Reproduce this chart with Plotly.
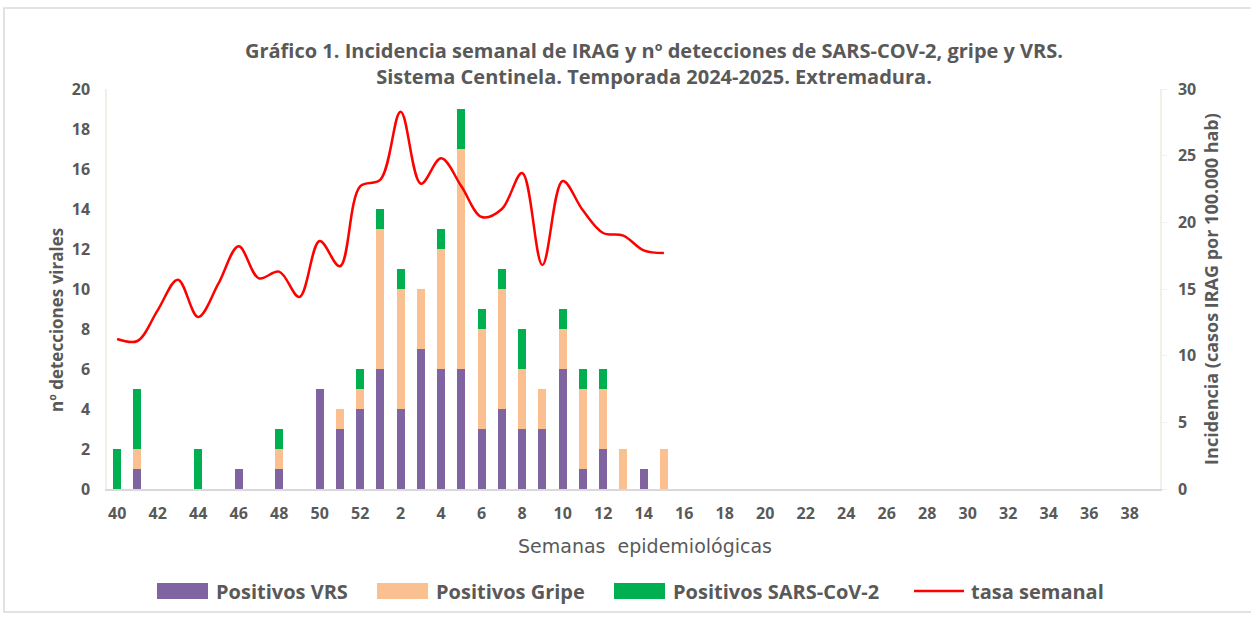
import plotly.graph_objects as go

weeks = [str(w) for w in list(range(40, 53)) + list(range(1, 40))]

vrs = [0, 1, 0, 0, 0, 0, 1, 0, 1, 0, 5, 3, 4, 6, 4, 7, 6, 6, 3, 4, 3, 3, 6, 1, 2, 0, 1, 0] + [0] * 24
gripe = [0, 1, 0, 0, 0, 0, 0, 0, 1, 0, 0, 1, 1, 7, 6, 3, 6, 11, 5, 6, 3, 2, 2, 4, 3, 2, 0, 2] + [0] * 24
sars = [2, 3, 0, 0, 2, 0, 0, 0, 1, 0, 0, 0, 1, 1, 1, 0, 1, 2, 1, 1, 2, 0, 1, 1, 1, 0, 0, 0] + [0] * 24
tasa = [11.25, 11.1, 13.4, 15.7, 12.9, 15.4, 18.2, 15.8, 16.3, 14.4, 18.6, 16.7, 22.7, 23.2,
        28.3, 22.9, 24.8, 22.7, 20.4, 21.0, 23.7, 16.8, 23.1, 20.9, 19.2, 19.0, 17.9, 17.7]

series_names = ["Positivos VRS", "Positivos Gripe", "Positivos SARS-CoV-2", "tasa semanal"]
series_colors = ["#8064A2", "#FAC090", "#00B050", "#FF0000"]

GRAY = "#595959"
FONT = "Open Sans"

fig = go.Figure()
for vals, name, col in zip([vrs, gripe, sars], series_names[:3], series_colors[:3]):
    fig.add_trace(go.Bar(x=weeks, y=vals, name=name, showlegend=False,
                         marker=dict(color=col, line=dict(width=0))))
fig.add_trace(go.Scatter(x=weeks[:len(tasa)], y=tasa, name=series_names[3], mode="lines", showlegend=False,
                         line=dict(color=series_colors[3], width=2.5, shape="spline", smoothing=1.0),
                         yaxis="y2"))

W0, W1, T, B = 107, 1160, 89, 489
def px(x):
    return (x - W0) / (W1 - W0)
def py(y):
    return (B - y) / (B - T)

fig.update_layout(
    width=1251, height=617,
    margin=dict(l=W0, r=1251 - W1, t=T, b=617 - B),
    paper_bgcolor="white", plot_bgcolor="white",
    barmode="stack", bargap=0.6,
    font=dict(family=FONT, color=GRAY),
    title=dict(text="Gráfico 1. Incidencia semanal de IRAG y nº detecciones de SARS-COV-2, gripe y VRS.<br>Sistema Centinela. Temporada 2024-2025. Extremadura.",
               x=654 / 1251, xanchor="center", y=1 - 58 / 617, yanchor="middle",
               font=dict(family=FONT, size=20, color=GRAY, weight="bold")),
    xaxis=dict(type="category", tickvals=weeks[::2], ticktext=weeks[::2],
               range=[-0.5, 51.5], showgrid=False, showline=True, linecolor="#D9D9D9", linewidth=1.5,
               ticks="", ticklabelstandoff=9,
               tickfont=dict(size=16, color=GRAY, weight="bold"), fixedrange=True),
    yaxis=dict(range=[0, 20], dtick=2, showgrid=False, showline=True, linecolor="#F2F0E6",
               linewidth=1.5, ticks="", zeroline=False, ticklabelstandoff=12,
               tickfont=dict(size=16, color=GRAY, weight="bold")),
    yaxis2=dict(range=[0, 30], dtick=5, overlaying="y", side="right", showgrid=False,
                showline=True, linecolor="#F2F0E6", linewidth=1.5, ticks="outside", ticklen=5,
                tickcolor="#F2F0E6", zeroline=False, ticklabelstandoff=8,
                tickfont=dict(size=16, color=GRAY, weight="bold"),
                title=dict(text="Incidencia (casos IRAG por 100.000 hab)", font=dict(size=18, color=GRAY, weight="bold"), standoff=10)),
    showlegend=False,
)

fig.add_annotation(text="nº detecciones virales", xref="paper", yref="paper",
                   x=px(56), y=py(320), showarrow=False, textangle=-90,
                   xanchor="center", yanchor="middle",
                   font=dict(family=FONT, size=17, color=GRAY, weight="bold"))

fig.add_annotation(text="Semanas  epidemiológicas", xref="paper", yref="paper",
                   x=px(645), y=py(546), showarrow=False, xanchor="center", yanchor="middle",
                   font=dict(family="DejaVu Sans", size=19, color=GRAY))

# manual legend
leg_y = 591
leg_items = [(157, 214), (377, 434), (614, 671), (914, 969)]
for (sx, tx), name, col in zip(leg_items, series_names, series_colors):
    if name == "tasa semanal":
        fig.add_shape(type="line", xref="paper", yref="paper", x0=px(sx), x1=px(sx + 50),
                      y0=py(leg_y), y1=py(leg_y), line=dict(color=col, width=2.5))
    else:
        fig.add_shape(type="rect", xref="paper", yref="paper", x0=px(sx), x1=px(sx + 51),
                      y0=py(leg_y + 8), y1=py(leg_y - 8), line=dict(width=0), fillcolor=col)
    fig.add_annotation(text=name, xref="paper", yref="paper", x=px(tx), y=py(leg_y),
                       xanchor="left", yanchor="middle", showarrow=False,
                       font=dict(family=FONT, size=20, color=GRAY, weight="bold"))

fig.add_shape(type="rect", xref="paper", yref="paper", x0=px(4), x1=px(1262), y0=py(612), y1=py(8),
              line=dict(color="#D9D9D9", width=1.5), fillcolor="rgba(0,0,0,0)", layer="below")

fig.write_html("out.html", config={"displayModeBar": False},
               post_script="document.body.style.margin='0';")
